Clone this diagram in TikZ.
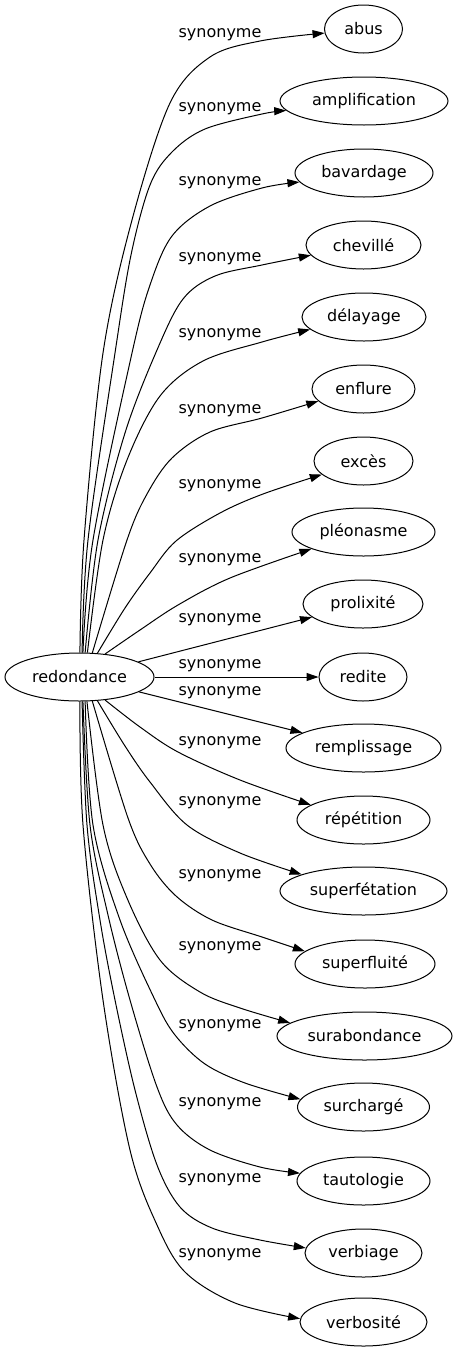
\documentclass[tikz,border=0pt]{standalone}
\usepackage{fontspec}
\setmainfont{DejaVu Sans}
\usetikzlibrary{arrows.meta,shapes.geometric}
\begin{document}
\begin{tikzpicture}[x=1pt,y=-1pt,
  word/.style={ellipse, draw, line width=1pt, fill=white, inner sep=0pt, minimum height=48pt, font=\fontsize{16}{19}\selectfont},
  lab/.style={inner sep=0pt, font=\fontsize{16}{19}\selectfont},
  edge/.style={line width=1pt, -{Triangle[length=12pt,width=8pt]}}]
\useasboundingbox (0,0) rectangle (455,1355);
% nodes
\node[word, minimum width=149pt] (r) at (79.5,677) {redondance};
\node[word, minimum width=78pt]  (n0)  at (363.5,29)   {abus};
\node[word, minimum width=168pt] (n1)  at (364,101)    {amplification};
\node[word, minimum width=138pt] (n2)  at (364,173)    {bavardage};
\node[word, minimum width=115pt] (n3)  at (363.5,245)  {chevillé};
\node[word, minimum width=124pt] (n4)  at (364,317)    {délayage};
\node[word, minimum width=103pt] (n5)  at (363.5,389)  {enflure};
\node[word, minimum width=99pt]  (n6)  at (363.5,461)  {excès};
\node[word, minimum width=143pt] (n7)  at (363.5,532)  {pléonasme};
\node[word, minimum width=120pt] (n8)  at (363,604)    {prolixité};
\node[word, minimum width=88pt]  (n9)  at (363,677)    {redite};
\node[word, minimum width=155pt] (n10) at (363.5,748)  {remplissage};
\node[word, minimum width=133pt] (n11) at (363.5,820)  {répétition};
\node[word, minimum width=167pt] (n12) at (363.5,891)  {superfétation};
\node[word, minimum width=140pt] (n13) at (365,964)    {superfluité};
\node[word, minimum width=175pt] (n14) at (364.5,1036) {surabondance};
\node[word, minimum width=132pt] (n15) at (363.5,1107) {surchargé};
\node[word, minimum width=133pt] (n16) at (363.5,1181) {tautologie};
\node[word, minimum width=117pt] (n17) at (363.5,1253) {verbiage};
\node[word, minimum width=127pt] (n18) at (363.5,1322) {verbosité};
% labels
\node[lab] (l0)  at (220,35)   {synonyme};
\node[lab] (l1)  at (220,109)  {synonyme};
\node[lab] (l2)  at (220,183)  {synonyme};
\node[lab] (l3)  at (220,259)  {synonyme};
\node[lab] (l4)  at (220,335)  {synonyme};
\node[lab] (l5)  at (220,411)  {synonyme};
\node[lab] (l6)  at (220,486)  {synonyme};
\node[lab] (l7)  at (220,560)  {synonyme};
\node[lab] (l8)  at (220,620)  {synonyme};
\node[lab] (l9)  at (220,666)  {synonyme};
\node[lab] (l10) at (220,693)  {synonyme};
\node[lab] (l11) at (220,743)  {synonyme};
\node[lab] (l12) at (220,803)  {synonyme};
\node[lab] (l13) at (220,876)  {synonyme};
\node[lab] (l14) at (220,948)  {synonyme};
\node[lab] (l15) at (220,1026) {synonyme};
\node[lab] (l16) at (220,1104) {synonyme};
\node[lab] (l17) at (220,1180) {synonyme};
\node[lab] (l18) at (220,1255) {synonyme};
% edges
\draw[edge] plot[smooth, tension=0.55] coordinates {(r.89) (84,540) (103,353) (132,220) (170,103) (210,57) (260,41) (n0.186)};
\draw[edge] plot[smooth, tension=0.55] coordinates {(r.84) (88,540) (115,353) (131,255) (150,185) (172,152) (205,129) (262,114) (n1.187)};
\draw[edge] plot[smooth, tension=0.55] coordinates {(r.82) (93,540) (132,353) (150,285) (172,236) (210,206) (262,188) (n2.188)};
\draw[edge] plot[smooth, tension=0.55] coordinates {(r.77) (98,540) (125,433) (157,350) (183,299) (215,276) (262,265) (n3.191)};
\draw[edge] plot[smooth, tension=0.55] coordinates {(r.72) (103,540) (127,460) (160,396) (203,361) (262,342) (n4.193)};
\draw[edge] plot[smooth, tension=0.55] coordinates {(r.62) (127,540) (147,494) (172,458) (210,432) (262,418) (n5.195)};
\draw[edge] plot[smooth, tension=0.55] coordinates {(r.53) (125,608) (150,573) (176,541) (220,513) (263,494) (n6.198)};
\draw[edge] plot[smooth, tension=0.55] coordinates {(r.42) (140,630) (178,605) (230,578) (n7.198)};
\draw[edge] (r) -- (n8);
\draw[edge] (r) -- (n9);
\draw[edge] (r) -- (n10);
\draw[edge] plot[smooth, tension=0.55] coordinates {(r.-42) (140,727) (178,752) (240,780) (n11.164)};
\draw[edge] plot[smooth, tension=0.55] coordinates {(r.-53) (125,746) (150,782) (187,825) (240,853) (n12.165)};
\draw[edge] plot[smooth, tension=0.55] coordinates {(r.-62) (128,818) (150,864) (176,896) (212,920) (262,937) (n13.168)};
\draw[edge] plot[smooth, tension=0.55] coordinates {(r.-73) (103,825) (127,898) (160,960) (200,992) (240,1008) (n14.170)};
\draw[edge] plot[smooth, tension=0.55] coordinates {(r.-77) (93,825) (120,920) (155,1000) (175,1035) (205,1064) (245,1083) (n15.173)};
\draw[edge] plot[smooth, tension=0.55] coordinates {(r.-82) (90,825) (108,915) (130,1000) (157,1087) (177,1125) (210,1150) (260,1167) (n16.173)};
\draw[edge] plot[smooth, tension=0.55] coordinates {(r.-84) (87,825) (100,920) (115,1000) (135,1090) (157,1165) (180,1207) (212,1228) (260,1240) (n17.175)};
\draw[edge] plot[smooth, tension=0.55] coordinates {(r.-89) (83,825) (103,1000) (130,1150) (157,1225) (185,1272) (235,1303) (n18.177)};
\end{tikzpicture}
\end{document}
